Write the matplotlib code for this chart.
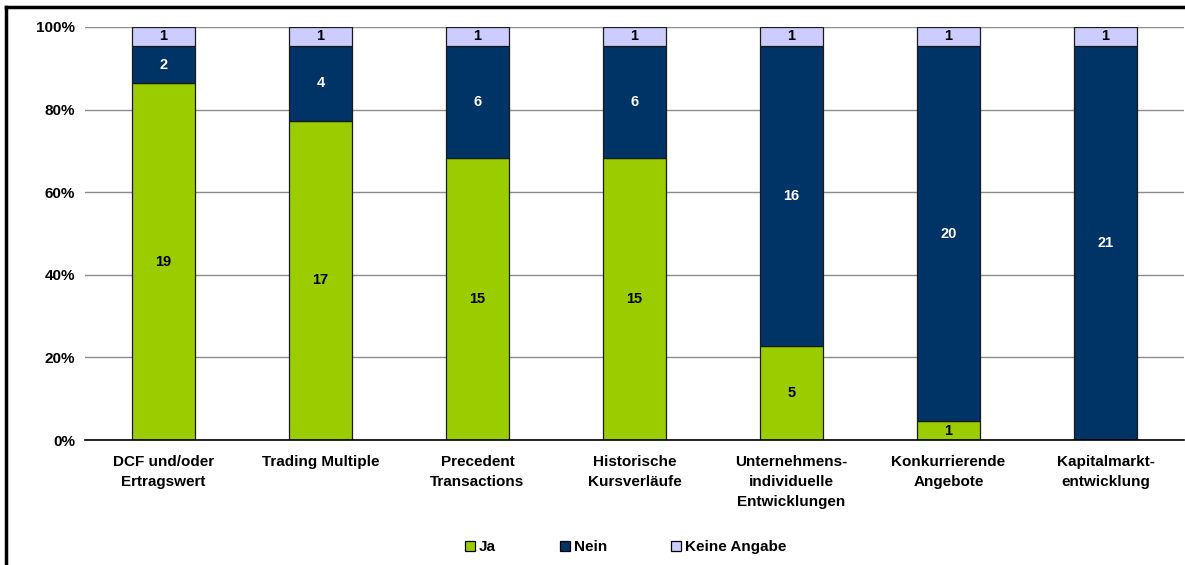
import numpy as np
import matplotlib.pyplot as plt
from matplotlib.lines import Line2D

plt.rcParams["font.family"] = ["Liberation Sans", "DejaVu Sans"]
plt.rcParams["font.weight"] = "bold"

categories = [
    "DCF und/oder\nErtragswert",
    "Trading Multiple",
    "Precedent\nTransactions",
    "Historische\nKursverläufe",
    "Unternehmens-\nindividuelle\nEntwicklungen",
    "Konkurrierende\nAngebote",
    "Kapitalmarkt-\nentwicklung",
]
ja = [19, 17, 15, 15, 5, 1, 0]
nein = [2, 4, 6, 6, 16, 20, 21]
keine = [1, 1, 1, 1, 1, 1, 1]

series = [
    ("Ja", ja, "#9ACC00", "black"),
    ("Nein", nein, "#003366", "white"),
    ("Keine Angabe", keine, "#CCCCFF", "black"),
]

fig = plt.figure(figsize=(11.85, 5.65), dpi=100)
ax = fig.add_axes([85 / 1185, 1 - 440 / 565, 1099 / 1185, 413 / 565])

x = np.arange(len(categories))
totals = np.array(ja) + np.array(nein) + np.array(keine)
bottom = np.zeros(len(categories))
handles = []
for name, vals, color, tcolor in series:
    vals = np.array(vals, dtype=float)
    share = vals / totals * 100
    ax.bar(x, share, bottom=bottom, width=0.4, color=color,
           edgecolor="#1a1a1a", linewidth=0.9, zorder=2)
    for xi, v, s, b in zip(x, vals, share, bottom):
        if v > 0:
            ax.text(xi, b + s / 2, f"{int(v)}", ha="center", va="center",
                    color=tcolor, fontsize=10.5, fontweight="bold", zorder=3)
    bottom = bottom + share
    handles.append(Line2D([], [], marker="s", linestyle="none", markersize=7,
                          markerfacecolor=color, markeredgecolor="black",
                          markeredgewidth=0.9, label=name))

ax.set_xlim(-0.5, len(categories) - 0.5)
ax.set_ylim(0, 100)
ax.set_yticks(np.arange(0, 101, 20))
ax.set_yticklabels([f"{v}%" for v in range(0, 101, 20)], fontsize=11,
                   fontweight="bold")
ax.yaxis.grid(True, color="#8c8c8c", linewidth=1, zorder=0)
ax.set_axisbelow(True)
ax.set_xticks(x)
ax.set_xticklabels(categories, fontsize=11, fontweight="bold",
                   linespacing=1.55)
ax.tick_params(axis="both", length=0)
ax.tick_params(axis="x", pad=11)
ax.tick_params(axis="y", pad=7)
for side in ["top", "right", "left"]:
    ax.spines[side].set_visible(False)
ax.spines["bottom"].set_color("black")
ax.spines["bottom"].set_linewidth(1.2)
ax.spines["bottom"].set_zorder(3)

fig.legend(handles=handles, loc="center", bbox_to_anchor=(0.527, 1 - 547 / 565),
           ncol=3, frameon=False, fontsize=11, columnspacing=4.0,
           handletextpad=0.1, handlelength=1.0)

# outer border (left and top)
fig.add_artist(Line2D([6 / 1185, 6 / 1185], [0, 1 - 7 / 565], color="black",
                      linewidth=2.5, transform=fig.transFigure))
fig.add_artist(Line2D([6 / 1185, 1], [1 - 7 / 565, 1 - 7 / 565], color="black",
                      linewidth=2.5, transform=fig.transFigure))

fig.savefig("out.png", dpi=100)
